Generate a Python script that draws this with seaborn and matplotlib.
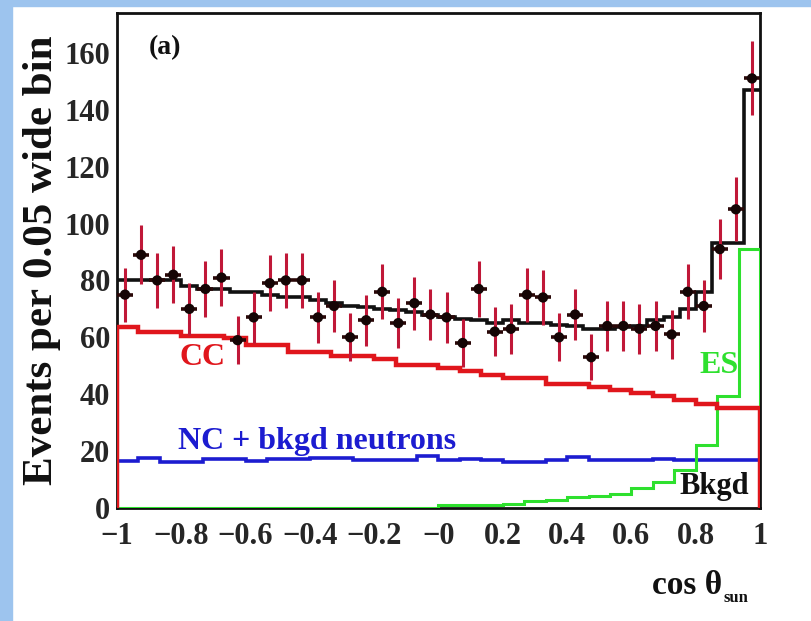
import numpy as np
import pandas as pd
import matplotlib
matplotlib.use("Agg")
import matplotlib.pyplot as plt
import seaborn as sns
from matplotlib.ticker import MultipleLocator, FixedLocator, FixedFormatter

# ---------------- data ----------------
# data points: 40 bins of width 0.05 in cos(theta_sun)
data_edges = np.linspace(-1, 1, 41)
data_counts = [75, 89, 80, 82, 70, 77, 81, 59, 67, 79,
               80, 80, 67, 71, 60, 66, 76, 65, 72, 68,
               67, 58, 77, 62, 63, 75, 74, 60, 68, 53,
               64, 64, 63, 64, 61, 76, 71, 91, 105, 151]
data_errors = [9.5, 10.4, 9.8, 10.0, 9.2, 9.7, 9.9, 8.5, 9.0, 9.8,
               9.8, 9.8, 9.0, 9.3, 8.5, 9.0, 9.6, 8.9, 9.3, 9.1,
               9.0, 8.4, 9.7, 8.7, 8.7, 9.5, 9.5, 8.5, 9.1, 8.0,
               8.8, 8.8, 8.7, 8.8, 8.6, 9.6, 9.3, 10.5, 11.3, 13.0]

# total fit (40 bins)
total_fit = [80, 80, 80, 80, 78, 77, 77, 76, 76, 75,
             74, 74, 73, 72, 71, 70.5, 70, 69.5, 69, 68,
             67, 66.5, 66, 65, 66, 65, 65, 64.5, 64, 63,
             63, 63.5, 64, 66, 67, 70, 76, 93, 93, 147]

# components: 30 bins of width 1/15
comp_edges = np.linspace(-1, 1, 31)
cc_values = [63.7, 62, 62, 60.5, 60.5, 59.8, 57.4, 57.4, 55, 55,
             53.5, 53.5, 52.4, 50.4, 50.4, 49.3, 48.3, 46.8, 45.8, 45.8,
             43.7, 43.7, 42.7, 41.5, 40.6, 39.4, 38, 36.6, 35.3, 35.3]
nc_values = [16.5, 17.5, 16.3, 16.3, 17.3, 17.3, 16.5, 17.3, 17.3, 17.5,
             17.5, 16.8, 16.8, 16.8, 18.3, 16.8, 17.3, 16.8, 16.0, 16.0,
             16.8, 17.9, 16.8, 16.8, 16.8, 17.3, 16.8, 16.8, 16.8, 16.8]
es_values = [0, 0, 0, 0, 0, 0, 0, 0, 0, 0,
             0, 0, 0, 0, 0, 1, 1, 1, 1.3, 2.5,
             2.8, 3.8, 4.3, 5, 7, 9, 13.5, 22, 39.5, 91]

x_tick_values = [-1, -0.8, -0.6, -0.4, -0.2, 0, 0.2, 0.4, 0.6, 0.8, 1]
x_tick_labels = ["\u22121", "\u22120.8", "\u22120.6", "\u22120.4", "\u22120.2",
                 "\u22120", "0.2", "0.4", "0.6", "0.8", "1"]
y_tick_values = [0, 20, 40, 60, 80, 100, 120, 140, 160]

# ---------------- style ----------------
sns.set_style("white")
plt.rcParams["font.family"] = ["Liberation Serif", "DejaVu Serif"]
plt.rcParams["font.weight"] = "bold"

fig = plt.figure(figsize=(8.12, 6.21), dpi=100)
fig.patch.set_facecolor("white")
# light-blue frame strips of the screenshot
fig.patches.append(plt.Rectangle((0, 0), 12 / 812, 1, transform=fig.transFigure,
                                 color="#9dc4ee", zorder=0))
fig.patches.append(plt.Rectangle((0, 1 - 6 / 621), 1, 6 / 621, transform=fig.transFigure,
                                 color="#9dc4ee", zorder=0))

ax = fig.add_axes([117 / 812, (621 - 508) / 621, (760 - 117) / 812, (508 - 13) / 621])
ax.set_facecolor("white")

# component histograms
ax.stairs(nc_values, comp_edges, baseline=0, color="#1c1cd0", lw=2.6, zorder=3)
ax.stairs(es_values, comp_edges, baseline=0, color="#2ee02e", lw=2.2, zorder=3)
ax.stairs(cc_values, comp_edges, baseline=0, color="#e0161c", lw=3.2, zorder=3)
# total fit
ax.stairs(total_fit, data_edges, baseline=None, color="#111111", lw=2.6, zorder=4)

# data points
centers = 0.5 * (data_edges[:-1] + data_edges[1:])
df = pd.DataFrame({"x": centers, "y": data_counts, "err": data_errors})
ax.errorbar(df["x"], df["y"], yerr=df["err"], fmt="none", ecolor="#c01838",
            elinewidth=2.2, capsize=0, zorder=5)
ax.errorbar(df["x"], df["y"], xerr=0.025, fmt="none", ecolor="#2a0808",
            elinewidth=2.6, capsize=0, zorder=6)
sns.scatterplot(data=df, x="x", y="y", ax=ax, color="#150505", s=55,
                edgecolor="none", zorder=7, legend=False)

# axes
ax.set_xlim(-1, 1)
ax.set_ylim(0, 174)
ax.set_xlabel("")
ax.set_ylabel("")
for sp in ax.spines.values():
    sp.set_color("#111111")
    sp.set_linewidth(2.0)
    sp.set_visible(True)

ax.xaxis.set_major_locator(FixedLocator(x_tick_values))
ax.xaxis.set_major_formatter(FixedFormatter(x_tick_labels))
ax.xaxis.set_minor_locator(MultipleLocator(0.05))
ax.yaxis.set_major_locator(FixedLocator(y_tick_values))
ax.yaxis.set_minor_locator(MultipleLocator(5))
ax.tick_params(axis="both", which="both", direction="in", color="#111111",
               top=False, right=False, width=2.0)
ax.tick_params(axis="x", which="major", length=12, pad=10, labelsize=22)
ax.tick_params(axis="x", which="minor", length=6)
ax.tick_params(axis="y", which="major", length=15, pad=5, labelsize=22)
ax.tick_params(axis="y", which="minor", length=7)
for lab in ax.get_xticklabels() + ax.get_yticklabels():
    lab.set_fontweight("bold")

# annotations
ax.text(-0.9, 162, "(a)", fontsize=20, fontweight="bold", color="#111111",
        va="center", ha="left")
ax.text(-0.805, 53, "CC", fontsize=23, fontweight="bold", color="#e0161c",
        va="center", ha="left")
ax.text(-0.81, 23.5, "NC + bkgd neutrons", fontsize=23, fontweight="bold",
        color="#1c1cd0", va="center", ha="left")
ax.text(0.813, 50, "ES", fontsize=23, fontweight="bold", color="#2ee02e",
        va="center", ha="left")
ax.text(0.75, 7.7, "Bkgd", fontsize=22, fontweight="bold", color="#111111",
        va="center", ha="left")

# axis titles
fig.text(42 / 812, 1 - 260 / 621, "Events per 0.05 wide bin", rotation=90,
         fontsize=31, fontweight="bold", color="#111111", va="center", ha="center")
fig.text(722 / 812, 1 - 586 / 621, "cos \u03b8", fontsize=24, fontweight="bold",
         color="#111111", va="center", ha="right")
fig.text(724 / 812, 1 - 598 / 621, "sun", fontsize=12, fontweight="bold",
         color="#111111", va="center", ha="left")

fig.savefig("out.png", dpi=100)
